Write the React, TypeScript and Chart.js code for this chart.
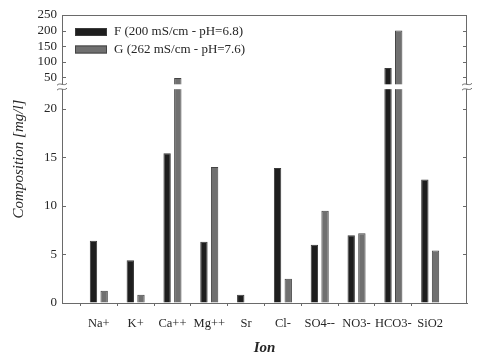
import React, { useEffect, useRef } from 'react';
import { Chart, registerables } from 'chart.js';

Chart.register(...registerables);

const ions = ['Na+', 'K+', 'Ca++', 'Mg++', 'Sr', 'Cl-', 'SO4--', 'NO3-', 'HCO3-', 'SiO2'];
const seriesF = [6.4, 4.4, 15.4, 6.3, 0.86, 13.9, 6.0, 6.96, 80, 12.7];
const seriesG = [1.25, 0.85, 48, 14.0, 0, 2.5, 9.5, 7.17, 200, 5.4];
const yTickValues = [0, 5, 10, 15, 20, 50, 100, 150, 200, 250];
const labelF = 'F (200 mS/cm - pH=6.8)';
const labelG = 'G (262 mS/cm - pH=7.6)';

// broken y axis: lower part 0..22, upper part 28..250 compressed
const LOWER_MAX = 22;
const GAP = 0.5;
const UPPER_MIN = 28;
const UPPER_MAX = 250;
const DISPLAY_MAX = 29.63;
const K = (DISPLAY_MAX - LOWER_MAX - GAP) / (UPPER_MAX - UPPER_MIN);
const toDisplay = (v: number) => (v <= LOWER_MAX ? v : LOWER_MAX + GAP + (v - UPPER_MIN) * K);

const FONT = "'Liberation Serif', 'Times New Roman', serif";
const AXIS = '#6a6a6a';
const TEXT = '#262626';
const colorF = '#1e1e1e';
const colorG = '#707070';

const framePlugin = {
  id: 'frameBreak',
  beforeDatasetsDraw(chart: any) {
    const { ctx, chartArea: a } = chart;
    const y = chart.scales.y;
    ctx.save();
    ctx.strokeStyle = AXIS;
    ctx.lineWidth = 1;
    ctx.beginPath();
    ctx.moveTo(a.left, a.top + 0.5);
    ctx.lineTo(a.right, a.top + 0.5);
    ctx.moveTo(a.right - 0.5, a.top);
    ctx.lineTo(a.right - 0.5, a.bottom);
    y.ticks.forEach((t: any) => {
      const p = Math.round(y.getPixelForValue(t.value)) + 0.5;
      ctx.moveTo(a.left, p);
      ctx.lineTo(a.left + 4, p);
      ctx.moveTo(a.right, p);
      ctx.lineTo(a.right - 4, p);
    });
    ctx.stroke();
    ctx.restore();
  },
  afterDatasetsDraw(chart: any) {
    const { ctx, chartArea: a } = chart;
    const y = chart.scales.y;
    const yTop = y.getPixelForValue(LOWER_MAX + GAP);
    const yBot = y.getPixelForValue(LOWER_MAX);
    ctx.save();
    ctx.fillStyle = '#fff';
    ctx.fillRect(a.left - 3, yTop, a.right - a.left + 6, yBot - yTop);
    ctx.strokeStyle = AXIS;
    ctx.lineWidth = 1;
    [a.left, a.right].forEach((x: number) => {
      [yTop, yBot].forEach((yy: number) => {
        ctx.beginPath();
        ctx.moveTo(x - 5, yy + 1);
        ctx.bezierCurveTo(x - 2, yy - 2.5, x + 2, yy + 2.5, x + 5, yy - 1);
        ctx.stroke();
      });
    });
    // legend inside plot
    const ds = chart.data.datasets;
    ds.forEach((d: any, i: number) => {
      const bx = a.left + 13;
      const by = a.top + 13 + i * 17.5;
      ctx.fillStyle = d.backgroundColor;
      ctx.fillRect(bx, by, 32, 8);
      ctx.strokeStyle = d.borderColor;
      ctx.strokeRect(bx + 0.5, by + 0.5, 31, 7);
      ctx.fillStyle = TEXT;
      ctx.font = `13px ${FONT}`;
      ctx.textBaseline = 'middle';
      ctx.textAlign = 'left';
      ctx.fillText(d.label, bx + 39, by + 4);
    });
    ctx.restore();
  },
};

export default function App() {
  const ref = useRef<HTMLCanvasElement | null>(null);
  useEffect(() => {
    document.body.style.margin = '0';
    const chart = new Chart(ref.current as HTMLCanvasElement, {
      type: 'bar',
      data: {
        labels: ['', ...ions, ''],
        datasets: [
          {
            label: labelF,
            data: [null, ...seriesF.map(toDisplay), null],
            backgroundColor: colorF,
            borderColor: '#3a3a3a',
            borderWidth: 1,
            categoryPercentage: 0.58,
            barPercentage: 0.69,
          },
          {
            label: labelG,
            data: [null, ...seriesG.map(toDisplay), null],
            backgroundColor: colorG,
            borderColor: '#444',
            borderWidth: 1,
            categoryPercentage: 0.58,
            barPercentage: 0.69,
          },
        ],
      },
      options: {
        animation: false,
        responsive: true,
        maintainAspectRatio: false,
        layout: { padding: { top: 15, right: 5, left: 0, bottom: 0 } },
        plugins: { legend: { display: false }, tooltip: { enabled: false } },
        scales: {
          x: {
            type: 'category',
            offset: false,
            afterFit: (s: any) => { s.height = 52; },
            grid: {
              drawOnChartArea: false,
              drawTicks: true,
              tickLength: 3,
              color: (c: any) => (c.index === 0 || c.index === ions.length + 1 ? 'rgba(0,0,0,0)' : AXIS),
            },
            border: { display: true, color: AXIS },
            ticks: {
              autoSkip: false,
              maxRotation: 0,
              padding: 10,
              color: TEXT,
              font: { family: FONT, size: 12.5 },
            },
            title: {
              display: true,
              text: 'Ion',
              color: TEXT,
              font: { family: FONT, size: 15, style: 'italic', weight: 'bold' },
              padding: { top: 0, bottom: -2 },
            },
          },
          y: {
            min: 0,
            max: DISPLAY_MAX,
            afterFit: (s: any) => { s.width = 62; },
            afterBuildTicks: (s: any) => {
              s.ticks = yTickValues.map((v) => ({ value: toDisplay(v) }));
            },
            grid: { drawOnChartArea: false, drawTicks: false },
            border: { display: true, color: AXIS },
            ticks: {
              padding: 5,
              color: TEXT,
              font: { family: FONT, size: 13 },
              callback: (_v: any, i: number) => String(yTickValues[i]),
            },
            title: {
              display: true,
              text: 'Composition [mg/l]',
              color: TEXT,
              font: { family: FONT, size: 15, style: 'italic' },
              padding: { top: 10, bottom: 0 },
            },
          },
        },
      },
      plugins: [framePlugin],
    } as any);
    return () => chart.destroy();
  }, []);
  return (
    <div style={{ width: 477, height: 355, position: 'relative' }}>
      <canvas ref={ref} />
    </div>
  );
}
